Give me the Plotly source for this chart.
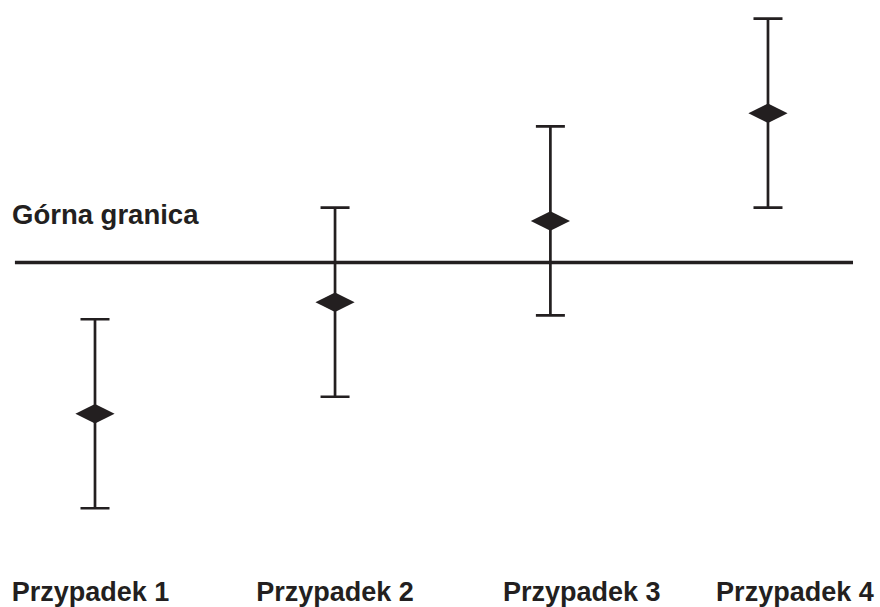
import plotly.graph_objects as go

# Data
cases = ["Przypadek 1", "Przypadek 2", "Przypadek 3", "Przypadek 4"]
case_x = [1.0, 2.07, 3.03, 4.0]          # horizontal position of each case
label_x = [0.98, 2.07, 3.17, 4.12]       # position of each case label
means = [2.0, 7.9, 12.2, 17.9]
errors = [5.0, 5.0, 5.0, 5.0]
upper_limit = 10.0
limit_label = "Górna granica"
limit_x = [0.643, 4.379]

INK = "#231f20"
FONT = "Liberation Sans, Arial, Helvetica, sans-serif"

fig = go.Figure()

fig.add_trace(go.Scatter(
    x=limit_x, y=[upper_limit, upper_limit],
    mode="lines", line=dict(color=INK, width=3.5),
    hoverinfo="skip", showlegend=False,
))

fig.add_trace(go.Scatter(
    x=case_x, y=means, mode="markers",
    marker=dict(symbol="diamond-wide", size=28, color=INK, line=dict(width=0)),
    error_y=dict(type="data", array=errors, visible=True, color=INK,
                 thickness=2.7, width=14.5),
    showlegend=False,
))

fig.add_annotation(
    x=limit_x[0], y=upper_limit + 2.65, xref="x", yref="y",
    text="<b>" + limit_label + "</b>", showarrow=False,
    xanchor="left", yanchor="middle", xshift=-5, yshift=-2,
    font=dict(family=FONT, size=27.5, color=INK),
)

fig.update_layout(
    width=880, height=607,
    margin=dict(l=0, r=0, t=0, b=60),
    paper_bgcolor="white", plot_bgcolor="white",
    font=dict(family=FONT, color=INK),
    xaxis=dict(
        range=[0.5765, 4.4993], showgrid=False, zeroline=False, showline=False,
        tickmode="array", tickvals=label_x,
        ticktext=["<b>" + c + "</b>" for c in cases],
        tickfont=dict(family=FONT, size=27, color=INK),
        ticks="", fixedrange=True, ticklabelstandoff=26,
    ),
    yaxis=dict(
        range=[-5.05, 23.89], showgrid=False, zeroline=False, showline=False,
        showticklabels=False, ticks="", fixedrange=True,
    ),
)

fig.write_html("out.html")
